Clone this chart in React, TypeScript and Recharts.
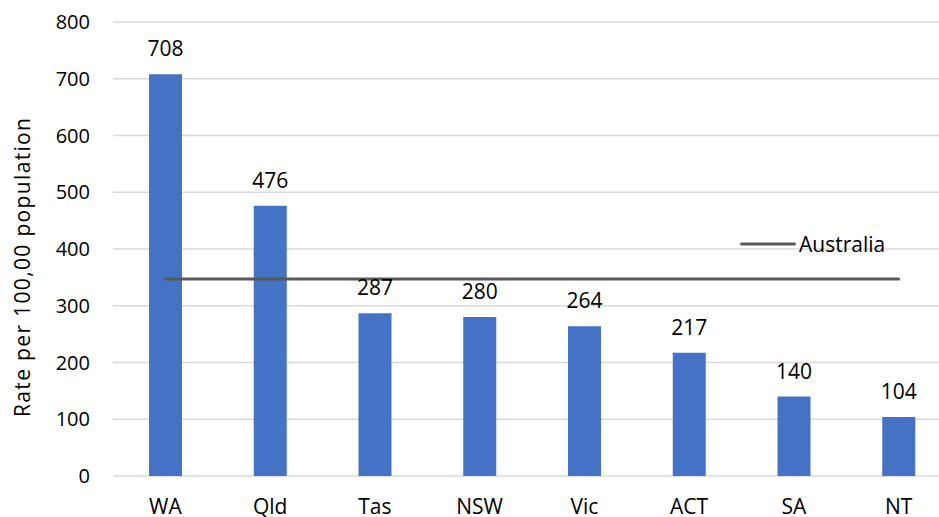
import React from "react";
import { ComposedChart, Bar, Line, XAxis, YAxis, CartesianGrid, LabelList } from "recharts";

const states = ["WA", "Qld", "Tas", "NSW", "Vic", "ACT", "SA", "NT"];
const rates = [708, 476, 287, 280, 264, 217, 140, 104];
const australiaRate = 347;
const yTicks = [0, 100, 200, 300, 400, 500, 600, 700, 800];
const seriesName = "Australia";

const data = states.map((s, i) => ({ state: s, rate: rates[i], australia: australiaRate }));

const FONT = "'Open Sans', 'Noto Sans', sans-serif";

const LegendBox = () => (
  <div style={{ position: "absolute", left: 740, top: 231, display: "flex", alignItems: "center", fontFamily: FONT, fontSize: 21, color: "#000" }}>
    <svg width={56} height={6} style={{ display: "block" }}>
      <line x1={1.5} y1={3} x2={54.5} y2={3} stroke="#595959" strokeWidth={3} strokeLinecap="round" />
    </svg>
    <span style={{ marginLeft: 3, lineHeight: "26px" }}>{seriesName}</span>
  </div>
);

const YLabel = (props: any) => {
  const vb = props.viewBox || { x: 0, y: 0, width: 0, height: 0 };
  const cx = vb.x + 22;
  const cy = vb.y + vb.height / 2 + 18.5;
  return (
    <text
      x={cx}
      y={cy}
      transform={`rotate(-90 ${cx} ${cy})`}
      textAnchor="middle"
      dominantBaseline="central"
      fontFamily={FONT}
      fontSize={21}
      fill="#000"
      textLength={299}
      lengthAdjust="spacing"
    >
      Rate per 100,00 population
    </text>
  );
};

export default function App() {
  return (
    <div style={{ position: "absolute", left: 0, top: 0, width: 939, height: 517, overflow: "hidden", background: "#fff" }}>
      <ComposedChart width={960} height={517} data={data} margin={{ top: 22, right: 9, bottom: 0, left: 0 }}>
        <CartesianGrid vertical={false} stroke="#d9d9d9" strokeWidth={1.5} />
        <XAxis
          dataKey="state"
          axisLine={false}
          tickLine={false}
          height={41}
          tickMargin={17}
          tick={{ fontFamily: FONT, fontSize: 21, fill: "#000" }}
          interval={0}
        />
        <YAxis
          domain={[0, 800]}
          ticks={yTicks}
          axisLine={false}
          tickLine={false}
          width={113}
          tickMargin={17}
          tick={{ fontFamily: FONT, fontSize: 20, fill: "#000" }}
          label={<YLabel />}
        />
        <Bar dataKey="rate" fill="#4472c4" barSize={33} isAnimationActive={false}>
          <LabelList dataKey="rate" position="top" offset={18} style={{ fontFamily: FONT, fontSize: 21, fill: "#000" }} />
        </Bar>
        <Line
          dataKey="australia"
          name={seriesName}
          stroke="#595959"
          strokeWidth={3}
          strokeLinecap="round"
          dot={false}
          activeDot={false}
          isAnimationActive={false}
          type="linear"
        />
      </ComposedChart>
      <LegendBox />
    </div>
  );
}
